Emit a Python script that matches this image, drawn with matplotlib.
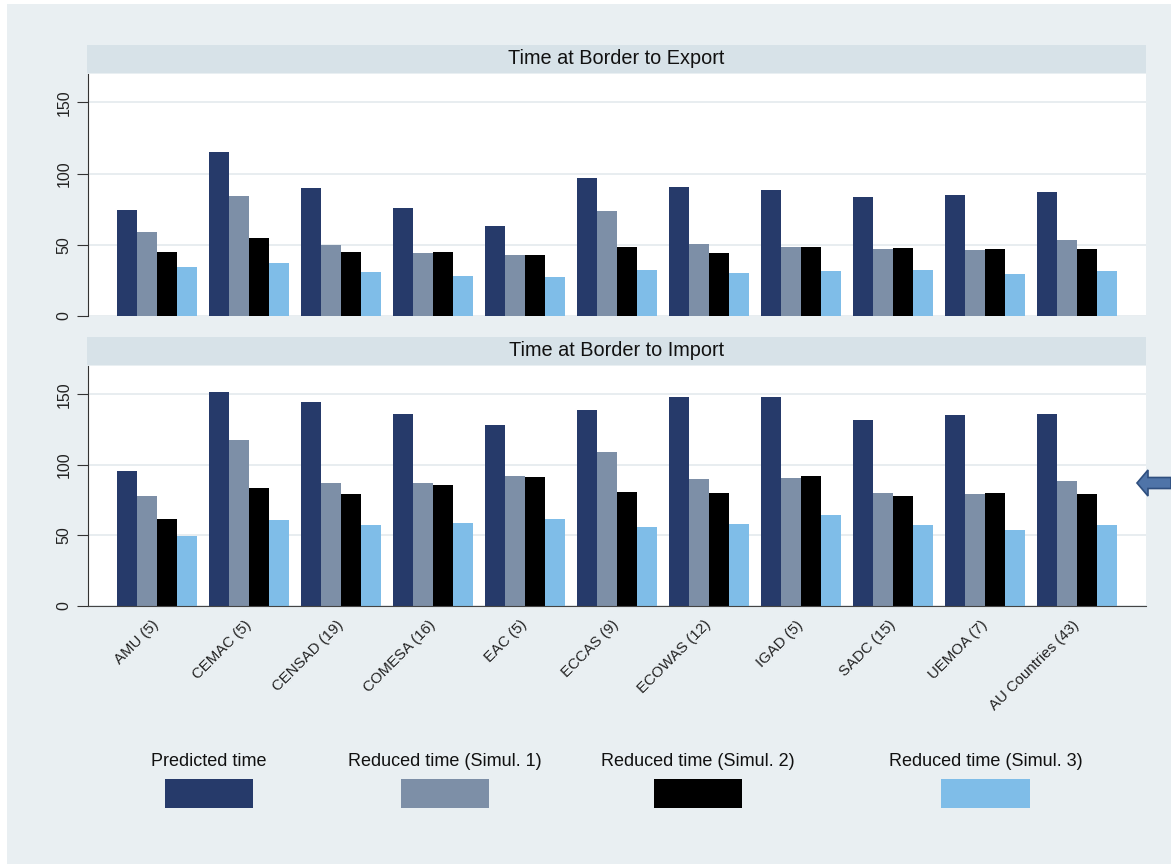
import matplotlib.pyplot as plt
import numpy as np
from matplotlib.patches import Rectangle, FancyArrow

plt.rcParams['font.family'] = ['Liberation Sans', 'DejaVu Sans']

groups = ['AMU (5)', 'CEMAC (5)', 'CENSAD (19)', 'COMESA (16)', 'EAC (5)', 'ECCAS (9)',
          'ECOWAS (12)', 'IGAD (5)', 'SADC (15)', 'UEMOA (7)', 'AU Countries (43)']
series = ['Predicted time', 'Reduced time (Simul. 1)', 'Reduced time (Simul. 2)', 'Reduced time (Simul. 3)']

export_pred = [74.2, 115.5, 89.7, 75.8, 62.9, 96.7, 90.6, 88.7, 83.3, 85.2, 86.9]
export_sim1 = [58.7, 84.0, 50.2, 44.6, 43.0, 73.5, 50.5, 48.4, 47.2, 46.2, 53.5]
export_sim2 = [45.1, 54.5, 45.3, 44.8, 43.0, 48.8, 44.6, 48.8, 48.1, 46.9, 46.9]
export_sim3 = [34.7, 37.3, 31.2, 28.2, 27.2, 32.4, 30.0, 31.9, 32.2, 29.3, 31.9]

import_pred = [95.5, 151.6, 144.8, 136.2, 128.4, 139.0, 148.1, 147.9, 131.9, 135.0, 136.2]
import_sim1 = [78.2, 117.4, 86.9, 87.1, 91.8, 108.9, 90.1, 90.8, 79.8, 79.1, 88.7]
import_sim2 = [61.7, 83.8, 79.1, 85.7, 91.1, 80.5, 80.3, 92.3, 78.2, 80.3, 79.6]
import_sim3 = [49.8, 60.8, 57.7, 58.9, 61.5, 55.9, 58.2, 64.8, 57.7, 53.5, 57.7]

colors = ['#263a6a', '#7d8fa7', '#000000', '#7fbde8']
bg = '#e9eff2'
strip = '#d7e2e8'

W, H = 1171, 864
fig = plt.figure(figsize=(W / 100, H / 100), dpi=100)
fig.patch.set_facecolor('white')
fig.patches.append(Rectangle((7 / W, 0), 1 - 7 / W, 1 - 4 / H, transform=fig.transFigure,
                             facecolor=bg, edgecolor='none', zorder=-10))


def px(x0, y0, x1, y1):
    # pixel box (top-left origin) -> figure rect
    return [x0 / W, 1 - y1 / H, (x1 - x0) / W, (y1 - y0) / H]


def panel(rect, strip_box, title, data, show_x):
    ax = fig.add_axes(rect)
    ax.set_facecolor('white')
    x = np.arange(len(groups))
    bw = 0.2174
    for i, vals in enumerate(data):
        ax.bar(x + (i - 1.5) * bw, vals, width=bw, color=colors[i], edgecolor='none', zorder=2)
    ax.set_xlim(-0.75, len(groups) - 0.25)
    ax.set_ylim(0, 170)
    ax.set_yticks([0, 50, 100, 150])
    ax.set_yticklabels(['0', '50', '100', '150'], rotation=90, va='center', fontsize=11.5, color='#222222')
    ax.grid(axis='y', color='#e6ecef', linewidth=1.3, zorder=0)
    ax.set_axisbelow(True)
    for s in ['top', 'right']:
        ax.spines[s].set_visible(False)
    ax.spines['left'].set_color('#333333')
    ax.tick_params(axis='y', length=8, color='#333333', pad=4)
    if show_x:
        ax.spines['bottom'].set_color('#444444')
        ax.set_xticks(x)
        ax.set_xticklabels(groups, rotation=45, ha='right', va='center', rotation_mode='anchor',
                           fontsize=10.8, color='#222222')
        ax.tick_params(axis='x', length=0, pad=12)
    else:
        ax.spines['bottom'].set_visible(False)
        ax.set_xticks([])
    sb = px(*strip_box)
    fig.patches.append(Rectangle((sb[0], sb[1]), sb[2], sb[3], transform=fig.transFigure,
                                 facecolor=strip, edgecolor='none', zorder=-5))
    fig.text(sb[0] + sb[2] / 2, sb[1] + sb[3] / 2, title, ha='center', va='center',
             fontsize=14.3, color='#111111')
    return ax


panel(px(88, 74, 1146, 316), (87, 45, 1146, 73), 'Time at Border to Export',
      [export_pred, export_sim1, export_sim2, export_sim3], False)
panel(px(88, 366, 1146, 606), (87, 337, 1146, 365), 'Time at Border to Import',
      [import_pred, import_sim1, import_sim2, import_sim3], True)

# legend: label above key
leg_x = [(165, 253), (401, 489), (654, 742), (941, 1030)]
for (x0, x1), lab, c in zip(leg_x, series, colors):
    r = px(x0, 779, x1, 808)
    fig.patches.append(Rectangle((r[0], r[1]), r[2], r[3], transform=fig.transFigure,
                                 facecolor=c, edgecolor='none', zorder=2))
    fig.text(r[0] + r[2] / 2, 1 - 762 / H, lab, ha='center', va='center',
             fontsize=13, color='#111111')

# arrow at right
fig.patches.append(FancyArrow(1171 / W, 1 - 483 / H, -34 / W, 0, width=11 / H,
                              head_width=26 / H, head_length=11 / W, length_includes_head=True,
                              transform=fig.transFigure, facecolor='#4f74a8',
                              edgecolor='#2f4f7f', linewidth=1.2, zorder=3))

fig.savefig('out.png', dpi=100, facecolor=fig.get_facecolor())
